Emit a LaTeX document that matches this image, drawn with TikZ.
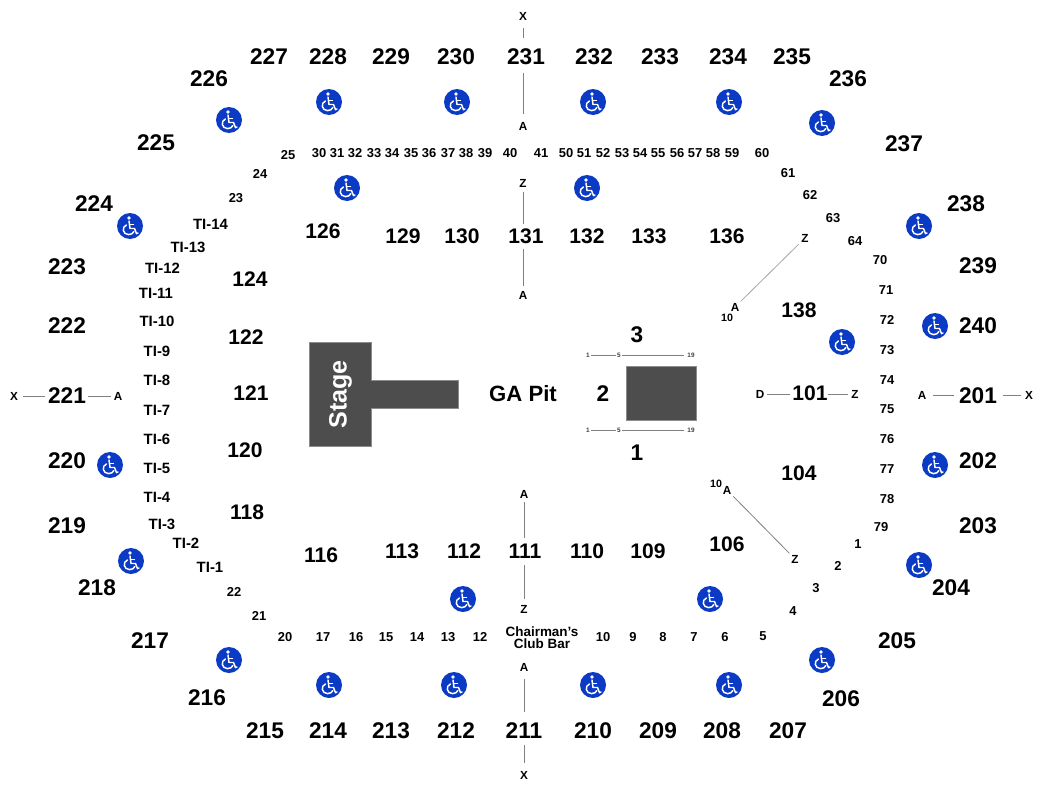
\documentclass[tikz,border=0pt]{standalone}
\usepackage{fontspec}
\setmainfont{Liberation Sans}
\definecolor{stagegrey}{HTML}{4D4D4D}
\definecolor{wcblue}{HTML}{0B3BC4}
\definecolor{linegrey}{HTML}{808080}
\tikzset{
  big/.style={font=\fontsize{17}{19}\selectfont\bfseries,inner sep=3pt},
  mid/.style={font=\fontsize{15.8}{18}\selectfont\bfseries,inner sep=3pt},
  sm/.style={font=\fontsize{9.7}{11}\selectfont\bfseries,inner sep=1pt},
  ti/.style={font=\fontsize{11.2}{12}\selectfont\bfseries,inner sep=1pt},
  let/.style={font=\fontsize{8.8}{10}\selectfont\bfseries,inner sep=2pt},
  tiny/.style={font=\fontsize{4.8}{6}\selectfont\bfseries,text=black!75,inner sep=1pt},
  conn/.style={draw=linegrey,line width=0.6pt},
  gapA/.style={shorten <=#1*0.75pt},
  gapB/.style={shorten >=#1*0.75pt},
  stageshape/.style={fill=stagegrey,draw=black!45,line width=0.4pt},
  wheelchair/.pic={
    \fill[wcblue] (0,0) circle[radius=9.75pt];
    \fill[white] (-1,-8) circle[radius=1.4pt];
    \draw[white,line width=1.1pt,line cap=round,line join=round]
       (-1,-5) -- (0,2.5) -- (4.5,2.5) -- (6.5,7.6) -- (8,7);
    \draw[white,line width=0.9pt,line cap=round] (-0.5,-1.5) -- (3.6,-1.5);
    \draw[white,line width=1.1pt,line cap=round]
       (-3.6,-1) .. controls (-8.6,1) and (-7.4,8.6) .. (-1.4,8.6)
       .. controls (1.2,8.6) and (3,7.4) .. (3.8,5.6);
  }
}
\begin{document}
\begin{tikzpicture}[x=0.75pt,y=-0.75pt]
\useasboundingbox (0,0) rectangle (1050,796);
\fill[white] (0,0) rectangle (1050,796);
% stage
\path[stageshape] (371,380) rectangle (458,408);
\path[stageshape] (309,342) rectangle (371,446);
\fill[stagegrey] (369,380.5) rectangle (373,407.5);
\node[rotate=90,text=white,font=\fontsize{18.8}{20}\selectfont\bfseries,inner sep=0pt] (stage) at (340.5,394.5) {Stage};
\path[stageshape] (626,366) rectangle (696,420);
% wheelchairs
\foreach \n/\x/\y in {1/229/120,2/329/102,3/457/102,4/593/102,5/729/102,6/822/123,7/347/188,8/587/188,
  9/919/226,10/935/326,11/842/342,12/935/465,13/919/565,14/110/465,15/131/561,16/130/226,
  17/229/660,18/329/685,19/454/685,20/593/685,21/729/685,22/822/660,23/463/599,24/710/599}
  \pic (w\n) at (\x,\y) {wheelchair};
% outer sections
\foreach \t/\x/\y in {227/269/57,228/328/57,229/391/57,230/456/57,231/526/57,232/594/57,233/660/57,234/728/57,235/792/57,
  236/848/79,237/904/144,238/966/204,239/978/266,240/978/326,201/978/396,202/978/461,203/978/526,204/951/588,205/897/641,
  206/841/699,207/788/731,208/722/731,209/658/731,210/593/731,211/524/731,212/456/731,213/391/731,214/328/731,215/265/731,
  216/207/698,217/150/641,218/97/588,219/67/526,220/67/461,221/67/396,222/67/326,223/67/267,224/94/204,225/156/143,226/209/79}
  \node[big] (s\t) at (\x,\y) {\t};
% lower bowl
\foreach \t/\x/\y in {126/323/231,129/403/236,130/462/236,131/526/236,132/587/236,133/649/236,136/727/236,138/799/310,
  124/250/279,122/246/337,121/251/393,120/245/450,118/247/512,116/321/555,113/402/551,112/464/551,111/525/551,110/587/551,
  109/648/551,106/727/544,104/799/473,101/810/393}
  \node[mid] (s\t) at (\x,\y) {\t};
\node[mid,font=\fontsize{16.6}{18}\selectfont\bfseries] (ga) at (523,394) {GA Pit};
\node[big] (p3) at (637,335) {3};
\node[big] (p2) at (603,394) {2};
\node[big] (p1) at (637,453) {1};
% club rows
\foreach \t/\x/\y in {25/288/155,24/260/174,23/236/198,30/319/153,31/337/153,32/355/153,33/374/153,34/392/153,35/411/153,
  36/429/153,37/448/153,38/466/153,39/485/153,40/510/153,41/541/153,50/566/153,51/584/153,52/603/153,53/622/153,54/640/153,
  55/658/153,56/677/153,57/695/153,58/713/153,59/732/153,60/762/153,61/788/173,62/810/195,63/833/218,64/855/241,70/880/260,
  71/886/290,72/887/320,73/887/350,74/887/380,75/887/409,76/887/439,77/887/469,78/887/499,79/881/527,1/858/544,2/838/566,
  3/816/588,4/793/611,5/763/636,6/725/637,7/694/637,8/663/637,9/633/637,10/603/637,12/480/637,13/448/637,14/417/637,
  15/386/637,16/356/637,17/323/637,20/285/637,21/259/616,22/234/592}
  \node[sm] (r\t) at (\x,\y) {\t};
\foreach \t/\x/\y in {TI-14/210.5/224,TI-13/188/247,TI-12/162.5/268,TI-11/156/293,TI-10/157/321,TI-9/157/351,TI-8/157/380,
  TI-7/157/410,TI-6/157/439,TI-5/157/468,TI-4/157/497,TI-3/162/524,TI-2/186/543,TI-1/210/567}
  \node[ti] (\t) at (\x,\y) {\t};
\node[let,align=center,font=\fontsize{10.1}{8.6}\selectfont\bfseries] (bar) at (542,637.5) {Chairman's\\Club Bar};
% letters
\foreach \n/\t/\x/\y in {xt/X/523/16,at/A/523/126,zt/Z/523/183,am/A/523/295,ab/A/524/494,zb/Z/524/609,ac/A/524/667,xb/X/524/775,
  xl/X/14/396,al/A/118/396,ar/A/922/395,xr/X/1029/395,dd/D/760/394,zr/Z/855/394,zu/Z/805/238,au/A/735/307,ad/A/727/490,zd/Z/795/559}
  \node[let] (\n) at (\x,\y) {\t};
\node[font=\fontsize{8}{9}\selectfont\bfseries,inner sep=0pt] (tenu) at (727,318) {10};
\node[font=\fontsize{8}{9}\selectfont\bfseries,inner sep=0pt] (tend) at (716,484) {10};
% row numbers
\foreach \n/\t/\x in {a/1/588,b/5/619,c/19/691} {
  \node[tiny] (u\n) at (\x,355) {\t};
  \node[tiny] (d\n) at (\x,430) {\t};
}
% connectors
\path[conn,gapA=12,gapB=19] (xt.center) -- (s231.center -| xt);
\path[conn,gapA=16,gapB=12] (s231.center -| at) -- (at.center);
\path[conn,gapA=9,gapB=12] (zt.center) -- (s131.center -| zt);
\path[conn,gapA=13,gapB=9] (s131.center -| am) -- (am.center);
\path[conn,gapA=8,gapB=13] (ab.center) -- (s111.center -| ab);
\path[conn,gapA=14,gapB=10] (s111.center -| zb) -- (zb.center);
\path[conn,gapA=12,gapB=19] (ac.center) -- (s211.center -| ac);
\path[conn,gapA=14,gapB=12] (s211.center -| xb) -- (xb.center);
\path[conn,gapA=9,gapB=22] (xl.center) -- (s221.center |- xl);
\path[conn,gapA=21,gapB=7] (s221.center |- al) -- (al.center);
\path[conn,gapA=11,gapB=24] (ar.center) -- (s201.center |- ar);
\path[conn,gapA=25,gapB=8] (s201.center |- xr) -- (xr.center);
\path[conn,gapA=7,gapB=20] (dd.center) -- (s101.center |- dd);
\path[conn,gapA=18,gapB=7] (s101.center |- zr) -- (zr.center);
\path[conn,gapA=9,gapB=8,draw=black!35] (zu.center) -- (au.center);
\path[conn,gapA=9,gapB=8] (ad.center) -- (zd.center);
\path[conn,gapA=3,gapB=3] (ua.center) -- (ub.center);
\path[conn,gapA=3,gapB=7] (ub.center) -- (uc.center);
\path[conn,gapA=3,gapB=3] (da.center) -- (db.center);
\path[conn,gapA=3,gapB=7] (db.center) -- (dc.center);
\end{tikzpicture}
\end{document}
